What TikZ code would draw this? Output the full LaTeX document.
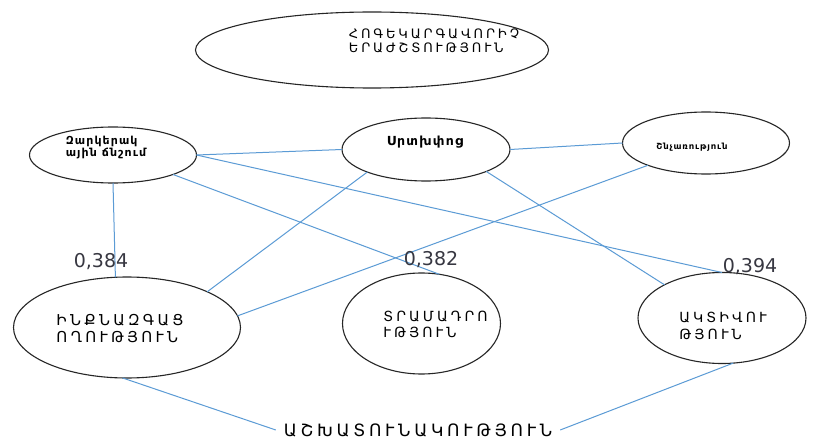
\documentclass[tikz,border=0pt]{standalone}
\usepackage{fontspec}
\setmainfont{DejaVu Sans}
\newfontfamily\armcaps[LetterSpace=22]{DejaVu Sans}
\newfontfamily\armlow[LetterSpace=10]{DejaVu Sans}
\definecolor{lb}{RGB}{91, 155, 213}
\definecolor{dg}{RGB}{55, 55, 65}
\usetikzlibrary{shapes.geometric}

\begin{document}
\begin{tikzpicture}
				[x=1pt, y=-1pt, every node/.style={inner sep=0pt, outer sep=0pt},
				bub/.style={ellipse, draw=black!85, line width=1.1pt},
				link/.style={draw=lb, line width=1pt},
				coef/.style={font=\fontsize{19}{19}\selectfont, text=dg}]
				\useasboundingbox (0, 0) rectangle (817, 441);
				\fill [white] (0, 0) rectangle (817, 441);
				\node (1) [bub, minimum width=353pt, minimum height=76pt, label={[shift={(62, -9)}, align=left, font=\armcaps\fontsize{13}{14}\selectfont]center:{ՀՈԳԵԿԱՐԳԱՎՈՐԻՉ\\ԵՐԱԺՇՏՈՒԹՅՈՒՆ}}] at (372, 50) {};
				\node (2) [bub, minimum width=167pt, minimum height=56pt, label={[shift={(-7, -7)}, align=left, font=\armlow\bfseries\fontsize{11}{12}\selectfont]center:{Զարկերակ\\ային ճնշում}}] at (113, 155) {};
				\node (3) [bub, minimum width=168pt, minimum height=63pt, label={[shift={(-1, -7)}, font=\armlow\bfseries\fontsize{12.5}{13}\selectfont]center:{Սրտխփոց}}] at (426, 149.5) {};
				\node (4) [bub, minimum width=167pt, minimum height=62pt, label={[shift={(-14, 4)}, font=\armlow\bfseries\fontsize{8.5}{9}\selectfont]center:{Շնչառություն}}] at (706, 143) {};
				\node (5) [bub, minimum width=227pt, minimum height=101pt, label={[shift={(-7, 1)}, align=left, font=\armcaps\fontsize{15}{17}\selectfont]center:{ԻՆՔՆԱԶԳԱՑ\\ՈՂՈՒԹՅՈՒՆ}}] at (127, 327.5) {};
				\node (6) [bub, minimum width=158pt, minimum height=101pt, label={[shift={(14, 1)}, align=left, font=\armcaps\fontsize{14}{16.5}\selectfont]center:{ՏՐԱՄԱԴՐՈ\\ՒԹՅՈՒՆ}}] at (421.5, 323.5) {};
				\node (7) [bub, minimum width=168pt, minimum height=91pt, label={[shift={(1, 8)}, align=left, font=\armcaps\fontsize{14}{16.5}\selectfont]center:{ԱԿՏԻՎՈՒ\\ԹՅՈՒՆ}}] at (722, 318) {};
				\node (8) [font=\armcaps\fontsize{17}{17}\selectfont, inner xsep=8pt] at (418, 430) {ԱՇԽԱՏՈՒՆԱԿՈՒԹՅՈՒՆ};
				\draw [link] (2.-90) to (5.103);
				\draw [link] (2.east) to (3.west);
				\draw [link] (2.east) to (7.north);
				\draw [link] (2.-18) to (6.70);
				\draw [link] (3.east) to (4.west);
				\draw [link] (3.201) to (5.24);
				\draw [link] (3.-20) to (7.150);
				\draw [link] (4.201) to (5.6);
				\draw [link] (5.265) to (8.west);
				\draw [link] (7.-76) to (8.east);
				\node (9) [coef] at (101, 262) {0,384};
				\node (10) [coef] at (431, 260) {0,382};
				\node (11) [coef] at (750, 267) {0,394};
		\end{tikzpicture}
\end{document}
